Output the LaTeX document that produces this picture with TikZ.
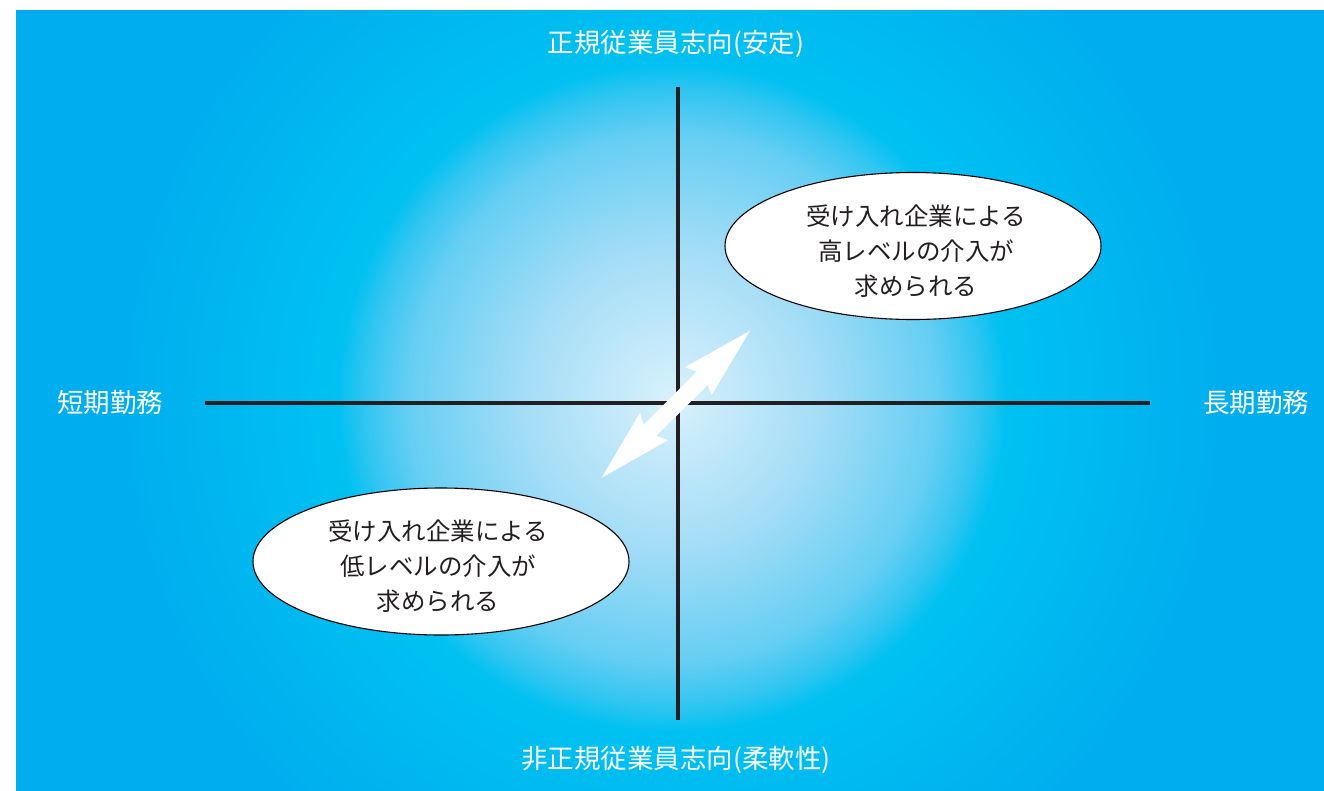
\documentclass[tikz,border=0pt]{standalone}
\usepackage{fontspec}
\newfontfamily\cjk{Noto Sans CJK JP}
\usetikzlibrary{shapes.geometric}
\definecolor{bgc}{HTML}{00AEEF}
\definecolor{glowc0}{HTML}{D8F1FC}
\definecolor{glowc1}{HTML}{A2DCF6}
\definecolor{glowc2}{HTML}{66CEF3}
\definecolor{glowc3}{HTML}{30C5F1}
\definecolor{glowc4}{HTML}{00C1F1}
\definecolor{inkc}{HTML}{231F20}
\pgfdeclareradialshading{glow}{\pgfpoint{0bp}{0bp}}{color(0bp)=(glowc0); color(7bp)=(glowc1); color(12bp)=(glowc2); color(14bp)=(glowc3); color(15.2bp)=(glowc4); color(25bp)=(bgc); color(50bp)=(bgc)}
\tikzset{
  axislabel/.style={text=white, font=\cjk\fontsize{26.5}{30}\selectfont, inner sep=0pt},
  bubble/.style={ellipse, draw=black, line width=1.1pt, fill=white, minimum width=376pt, minimum height=147pt, inner sep=0pt},
  bubbletext/.style={text=inkc, font=\cjk\fontsize{24.5}{35}\selectfont, align=center, inner sep=0pt},
  axisline/.style={draw=inkc, line width=4.8pt},
  blockarrow/.style={fill=white, draw=none}
}
\begin{document}
\begin{tikzpicture}[x=1pt, y=-1pt]
\useasboundingbox (0,0) rectangle (1324,790);
% background
\fill[bgc] (16,10) rectangle (1334,800);
\begin{scope}
  \clip (16,10) rectangle (1334,800);
  \shade[shading=glow] (672,398) circle (550);
\end{scope}
% axes
\coordinate (vtop) at (678,87);
\coordinate (vbot) at (678,720);
\coordinate (hleft) at (205,403);
\coordinate (hright) at (1150,403);
\draw[axisline] (vtop) -- (vbot);
\draw[axisline] (hleft) -- (hright);
% axis labels
\node[axislabel] (top) at (676,44) {正規従業員志向(安定)};
\node[axislabel] (bottom) at (676,760) {非正規従業員志向(柔軟性)};
\node[axislabel] (left) at (110,402) {短期勤務};
\node[axislabel] (right) at (1256,402) {長期勤務};
% ellipses
\node[bubble] (hi) at (913,246) {};
\node[bubbletext] (hitext) at (916,251) {受け入れ企業による\\高レベルの介入が\\求められる};
\node[bubble] (lo) at (441,561.5) {};
\node[bubbletext] (lotext) at (438,566.5) {受け入れ企業による\\低レベルの介入が\\求められる};
% double block arrow
\fill[blockarrow] (750,330.7) -- (685,367.3) -- (696.7,371.7) -- (643.3,425) -- (640,412.7)
  -- (601.7,477.7) -- (668.3,440) -- (656,436) -- (707.7,385) -- (711.7,395) -- cycle;
\end{tikzpicture}
\end{document}
